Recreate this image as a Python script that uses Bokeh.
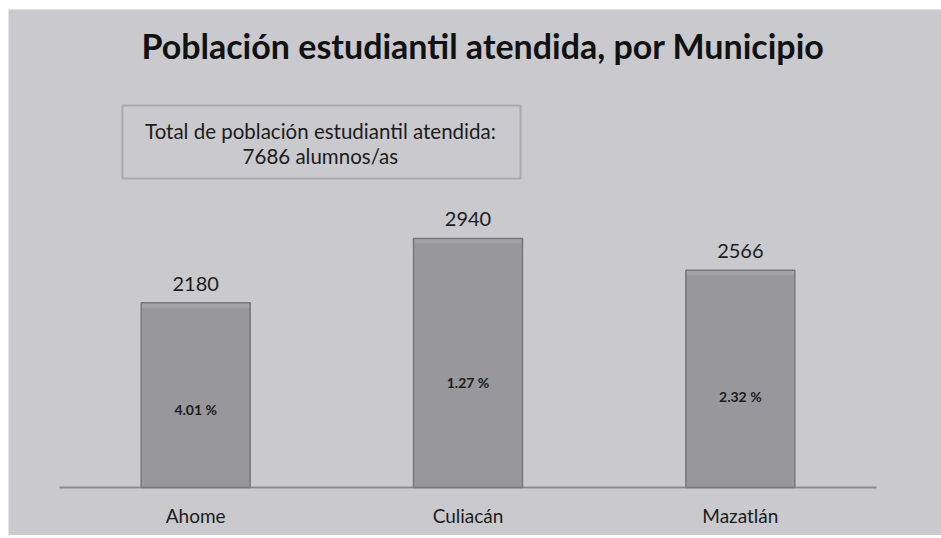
from bokeh.plotting import figure
from bokeh.models import Range1d, ColumnDataSource, Label
from bokeh.embed import file_html
from bokeh.resources import INLINE
from bokeh.core.properties import value

# ---- data ----
municipios = ["Ahome", "Culiacán", "Mazatlán"]
alumnos = [2180, 2940, 2566]
porcentajes = ["4.01 %", "1.27 %", "2.32 %"]
total = sum(alumnos)

titulo = "Población estudiantil atendida, por Municipio"
caja_l1 = "Total de población estudiantil atendida:"
caja_l2 = f"{total} alumnos/as"

BG = "#c9c9ce"
BAR = "#97979c"
BAR_TOP = "#a3a3a8"
BAR_LINE = "#77777b"
TXT = "#1c1c1c"
FONT = "Lato"

xs = [i + 0.5 for i in range(len(municipios))]

p = figure(width=933, height=526, output_backend="svg", toolbar_location=None,
           x_range=Range1d(-0.1873, 3.2387), y_range=Range1d(-567, 5643),
           min_border_left=0, min_border_right=0, min_border_top=0,
           min_border_bottom=0)
p.styles = {"margin-left": "8px", "margin-top": "9px"}
p.background_fill_color = BG
p.border_fill_color = BG
p.outline_line_color = None
p.grid.visible = False
p.xaxis.visible = False
p.yaxis.visible = False

src = ColumnDataSource(dict(x=xs, top=alumnos, lab=[str(v) for v in alumnos],
                            bevel=[v - 60 for v in alumnos], cat=municipios,
                            pct=porcentajes, pct_y=[v * 0.42 for v in alumnos]))

# baseline (category axis line)
p.segment(x0=[0], x1=[len(municipios)], y0=[0], y1=[0],
          line_color="#8c8c90", line_width=2)

# bars (body, bevel highlight, outline)
p.vbar(x="x", top="top", width=0.40, bottom=0, source=src,
       fill_color=BAR, line_color=None)
p.vbar(x="x", top="top", bottom="bevel", width=0.40, source=src,
       fill_color=BAR_TOP, line_color=None)
p.vbar(x="x", top="top", width=0.40, bottom=0, source=src,
       fill_color=None, line_color=BAR_LINE, line_width=1.5)

# category labels under the baseline
p.text(x="x", y=0, text="cat", source=src, text_align="center",
       text_baseline="middle", y_offset=28, text_font=value(FONT),
       text_font_size="19px", text_color=TXT)

# value labels above bars
p.text(x="x", y="top", text="lab", source=src, text_align="center",
       text_baseline="bottom", y_offset=-12, text_font=value(FONT),
       text_font_size="20px", text_color=TXT)

# percentage labels inside bars
p.text(x="x", y="pct_y", text="pct", source=src, text_align="center",
       text_baseline="middle", text_font=value(FONT), text_font_size="14px",
       text_font_style="bold", text_color=TXT)

# title
p.add_layout(Label(x=1.555, y=5220, text=titulo, text_align="center",
                   text_baseline="middle", text_font=FONT, text_font_size="34px",
                   text_font_style="bold", text_color="#111111"))

# info box
p.quad(left=[0.231], right=[1.693], bottom=[3648], top=[4510],
       fill_color=BG, line_color="#aaaaae", line_width=2)
p.add_layout(Label(x=0.958, y=4203, text=caja_l1, text_align="center",
                   text_baseline="middle", text_font=FONT, text_font_size="20.5px",
                   text_color=TXT))
p.add_layout(Label(x=0.958, y=3908, text=caja_l2, text_align="center",
                   text_baseline="middle", text_font=FONT, text_font_size="20.5px",
                   text_color=TXT))

open("out.html", "w").write(file_html(p, INLINE))
